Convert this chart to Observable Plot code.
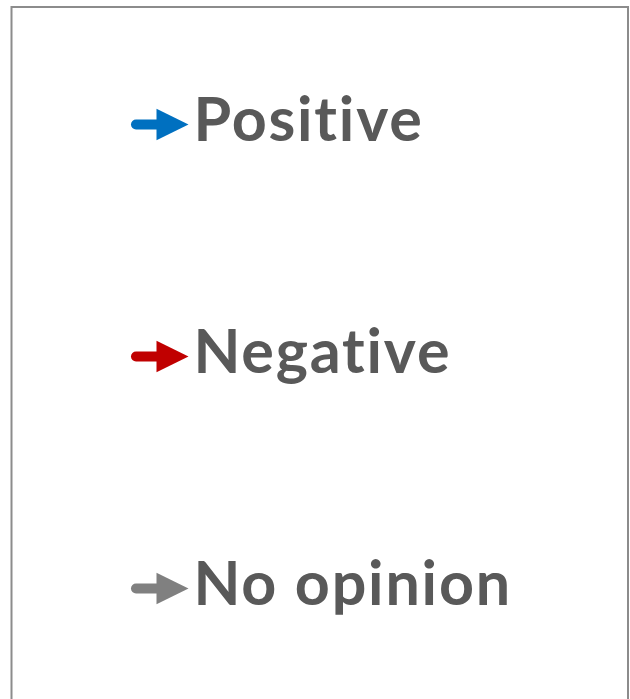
<!DOCTYPE html>
<html>
<head>
<meta charset="utf-8">
<script src="https://cdn.jsdelivr.net/npm/d3@7"></script>
<script src="https://cdn.jsdelivr.net/npm/@observablehq/plot@0.6"></script>
<style>
  html, body { margin: 0; padding: 0; background: #fff; }
  #wrap { width: 630px; height: 699px; overflow: hidden; position: relative; }
  #wrap svg text { font-variant-ligatures: none; font-feature-settings: "liga" 0; letter-spacing: 1.8px; }
</style>
</head>
<body>
<div id="wrap"></div>
<script>
const labels = ["Positive", "Negative", "No opinion"];
const colors = ["#0070C0", "#C00000", "#808080"];

const items = labels.map((label, i) => ({label, color: colors[i]}));

// right-pointing triangle symbol for arrow heads
const rightTriangle = {
  draw(context, size) {
    const h = Math.sqrt(size);
    context.moveTo(h / 2, 0);
    context.lineTo(-h / 2, -h * 0.49);
    context.lineTo(-h / 2, h * 0.49);
    context.closePath();
  }
};

const chart = Plot.plot({
  width: 630,
  height: 699,
  margin: 0,
  x: {domain: [0, 630], range: [0, 630], axis: null},
  y: {type: "point", domain: labels, range: [123, 588], padding: 0, axis: null},
  style: {fontFamily: "Lato, sans-serif", background: "#fff"},
  marks: [
    Plot.frame({stroke: "#8c8c8c", strokeWidth: 2, insetTop: 6.5, insetLeft: 11, insetRight: 2.5, insetBottom: -20}),
    Plot.ruleY(items, {y: "label", x1: 136, x2: 160, stroke: "color", strokeWidth: 10, strokeLinecap: "round"}),
    Plot.dot(items, {y: "label", x: 172, symbol: rightTriangle, r: 32 / Math.sqrt(Math.PI), fill: "color", stroke: null}),
    Plot.text(items, {y: "label", x: 193, text: "label", textAnchor: "start", lineAnchor: "middle", dy: -3,
      fontSize: 61, fontWeight: "bold", fill: "#595959"})
  ]
});
document.getElementById("wrap").append(chart);
</script>
</body>
</html>
